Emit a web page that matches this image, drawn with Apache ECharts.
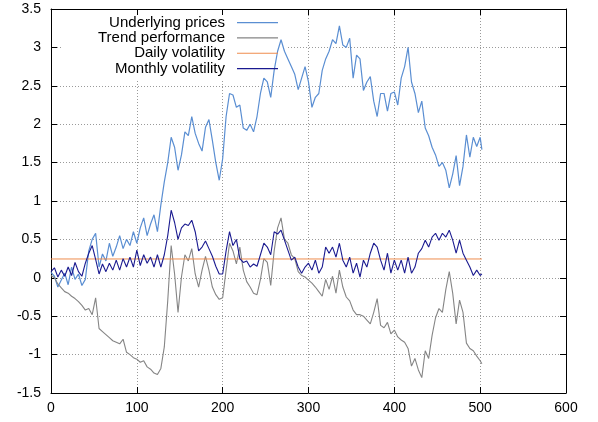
<!DOCTYPE html>
<html>
<head>
<meta charset="utf-8">
<script src="https://cdn.jsdelivr.net/npm/echarts@6/dist/echarts.min.js"></script>
<style>html,body{margin:0;padding:0;background:#fff}#c{width:598px;height:422px}</style>
</head>
<body>
<div id="c"></div>
<script>
var xs = [0,4,8,12,16,20,24,28,32,36,
  40,44,48,52,56,60,64,68,72,76,
  80,84,88,92,96,100,104,108,112,116,
  120,124,128,132,136,140,144,148,152,156,
  160,164,168,172,176,180,184,188,192,196,
  200,204,208,212,216,220,224,228,232,236,
  240,244,248,252,256,260,264,268,272,276,
  280,284,288,292,296,300,304,308,312,316,
  320,324,328,332,336,340,344,348,352,356,
  360,364,368,372,376,380,384,388,392,396,
  400,404,408,412,416,420,424,428,432,436,
  440,444,448,452,456,460,464,468,472,476,
  480,484,488,492,496,500,502];

var prices = [0.07,0.02,-0.12,-0.03,0.06,-0.09,0.14,-0.02,0.05,-0.10,
  -0.02,0.35,0.50,0.58,0.14,0.31,0.22,0.45,0.28,0.40,
  0.55,0.38,0.50,0.42,0.60,0.45,0.65,0.78,0.55,0.70,
  0.82,0.60,0.95,1.25,1.50,1.83,1.70,1.40,1.60,1.90,
  1.85,2.10,1.88,1.75,1.65,1.96,2.06,1.79,1.50,1.27,
  1.55,2.10,2.40,2.38,2.22,2.25,1.95,1.92,2.00,1.90,
  2.10,2.40,2.60,2.55,2.35,2.70,2.95,3.10,2.95,2.85,
  2.75,2.65,2.45,2.60,2.75,2.55,2.22,2.35,2.40,2.70,
  2.85,2.95,3.10,3.05,3.28,3.03,3.00,3.12,2.60,2.90,
  2.85,2.44,2.55,2.62,2.30,2.10,2.40,2.40,2.17,2.40,
  2.42,2.25,2.60,2.75,3.00,2.55,2.40,2.15,2.30,1.95,
  1.85,1.70,1.60,1.45,1.50,1.40,1.17,1.35,1.59,1.20,
  1.45,1.86,1.57,1.83,1.71,1.83,1.67];

var trend = [0.03,0.00,-0.08,-0.13,-0.18,-0.20,-0.24,-0.27,-0.31,-0.36,
  -0.42,-0.40,-0.48,-0.26,-0.66,-0.70,-0.74,-0.78,-0.82,-0.84,
  -0.86,-0.80,-0.97,-1.00,-1.04,-1.06,-1.10,-1.08,-1.16,-1.19,
  -1.24,-1.26,-1.18,-0.90,-0.30,0.42,0.05,-0.45,0.01,0.30,
  0.22,0.38,0.05,-0.12,0.10,0.28,0.10,-0.12,-0.22,-0.28,
  -0.26,0.10,0.45,0.35,0.18,0.40,0.10,-0.05,-0.12,-0.20,
  -0.22,-0.02,0.25,0.20,-0.10,0.35,0.65,0.78,0.50,0.45,
  0.30,0.25,0.08,0.03,0.01,-0.03,-0.07,-0.12,-0.18,-0.24,
  -0.02,-0.15,0.02,-0.20,0.10,-0.12,-0.25,-0.30,-0.42,-0.48,
  -0.48,-0.50,-0.55,-0.60,-0.45,-0.27,-0.62,-0.65,-0.58,-0.73,
  -0.68,-0.77,-0.81,-0.84,-0.92,-1.15,-1.05,-1.20,-1.30,-0.95,
  -1.05,-0.75,-0.52,-0.40,-0.45,-0.15,0.08,-0.20,-0.60,-0.29,
  -0.45,-0.85,-0.92,-0.95,-1.02,-1.08,-1.12];

var monthlyVol = [0.08,0.13,0.01,0.10,0.02,0.14,0.03,0.20,0.08,0.02,
  0.19,0.32,0.42,0.24,0.05,0.18,0.08,0.19,0.10,0.23,
  0.10,0.25,0.14,0.27,0.14,0.36,0.16,0.30,0.19,0.27,
  0.14,0.30,0.14,0.30,0.55,0.88,0.72,0.50,0.65,0.70,
  0.68,0.75,0.60,0.35,0.40,0.48,0.38,0.28,0.15,0.05,
  0.05,0.35,0.60,0.42,0.50,0.25,0.20,0.22,0.14,0.18,
  0.15,0.30,0.45,0.40,0.30,0.60,0.57,0.62,0.49,0.36,
  0.23,0.27,0.14,0.06,0.14,0.19,0.10,0.23,0.06,0.14,
  0.40,0.32,0.40,0.27,0.45,0.23,0.14,0.27,0.06,0.19,
  0.01,0.23,0.14,0.32,0.45,0.40,0.23,0.10,0.32,0.06,
  0.23,0.10,0.23,0.06,0.27,0.06,0.14,0.32,0.38,0.49,
  0.40,0.53,0.58,0.49,0.58,0.53,0.62,0.49,0.32,0.49,
  0.32,0.23,0.14,0.03,0.10,0.03,0.05];

var dailyVolX = [0, 502];
var dailyVol = [0.245, 0.245];

var seriesNames = ['Underlying prices', 'Trend performance', 'Daily volatility', 'Monthly volatility'];
var seriesColors = ['#5a8ed2', '#858585', '#ef8c4e', '#1a1a90'];
var seriesWidths = [1.2, 1.1, 1, 1.1];

function pairs(x, y) { return x.map(function (v, i) { return [v, y[i]]; }); }

var FONT = '"Liberation Sans", Arial, Helvetica, sans-serif';

function xAx(pos, show) {
  return {
    type: 'value', min: 0, max: 600, interval: 100, position: pos,
    axisLine: { show: true, onZero: false, lineStyle: { color: '#000', width: 1 } },
    axisTick: { show: true, inside: true, length: 6, lineStyle: { color: '#000', width: 1 } },
    axisLabel: { show: show, color: '#000', fontSize: 14, fontFamily: FONT, margin: 8 },
    splitLine: { show: show, lineStyle: { color: '#9a9a9a', type: [1, 2], width: 1 } }
  };
}
function yAx(pos, show) {
  return {
    type: 'value', min: -1.5, max: 3.5, interval: 0.5, position: pos,
    axisLine: { show: true, onZero: false, lineStyle: { color: '#000', width: 1 } },
    axisTick: { show: true, inside: true, length: 6, lineStyle: { color: '#000', width: 1 } },
    axisLabel: { show: show, color: '#000', fontSize: 14, fontFamily: FONT, margin: 10 },
    splitLine: { show: show, lineStyle: { color: '#9a9a9a', type: [1, 2], width: 1 } }
  };
}

function mkSeries(i, data) {
  return { name: seriesNames[i], type: 'line', data: data, symbol: 'none',
    lineStyle: { width: seriesWidths[i], color: seriesColors[i] }, itemStyle: { color: seriesColors[i] } };
}

var chart = echarts.init(document.getElementById('c'), null, { renderer: 'canvas' });
chart.setOption({
  animation: false,
  backgroundColor: '#fff',
  grid: { left: 51, top: 9, right: 32, bottom: 29, containLabel: false },
  xAxis: [xAx('bottom', true), xAx('top', false)],
  yAxis: [yAx('left', true), yAx('right', false)],
  graphic: { elements: [{ type: 'rect', z: 1, shape: { x: 62, y: 15, width: 224, height: 65 }, style: { fill: '#fff' } }] },
  legend: {
    orient: 'vertical', align: 'right', right: 320, top: 15, padding: 0, itemGap: 0,
    itemWidth: 41, itemHeight: 15.3,
    icon: 'path://M0,0H41V1.2H0Z',
    selectedMode: false,
    textStyle: { color: '#000', fontSize: 15, fontFamily: FONT, lineHeight: 15.3, padding: [0, 7, 0, 0] },
    data: seriesNames
  },
  series: [
    mkSeries(0, pairs(xs, prices)),
    mkSeries(1, pairs(xs, trend)),
    mkSeries(2, pairs(dailyVolX, dailyVol)),
    mkSeries(3, pairs(xs, monthlyVol))
  ]
});
</script>
</body>
</html>
